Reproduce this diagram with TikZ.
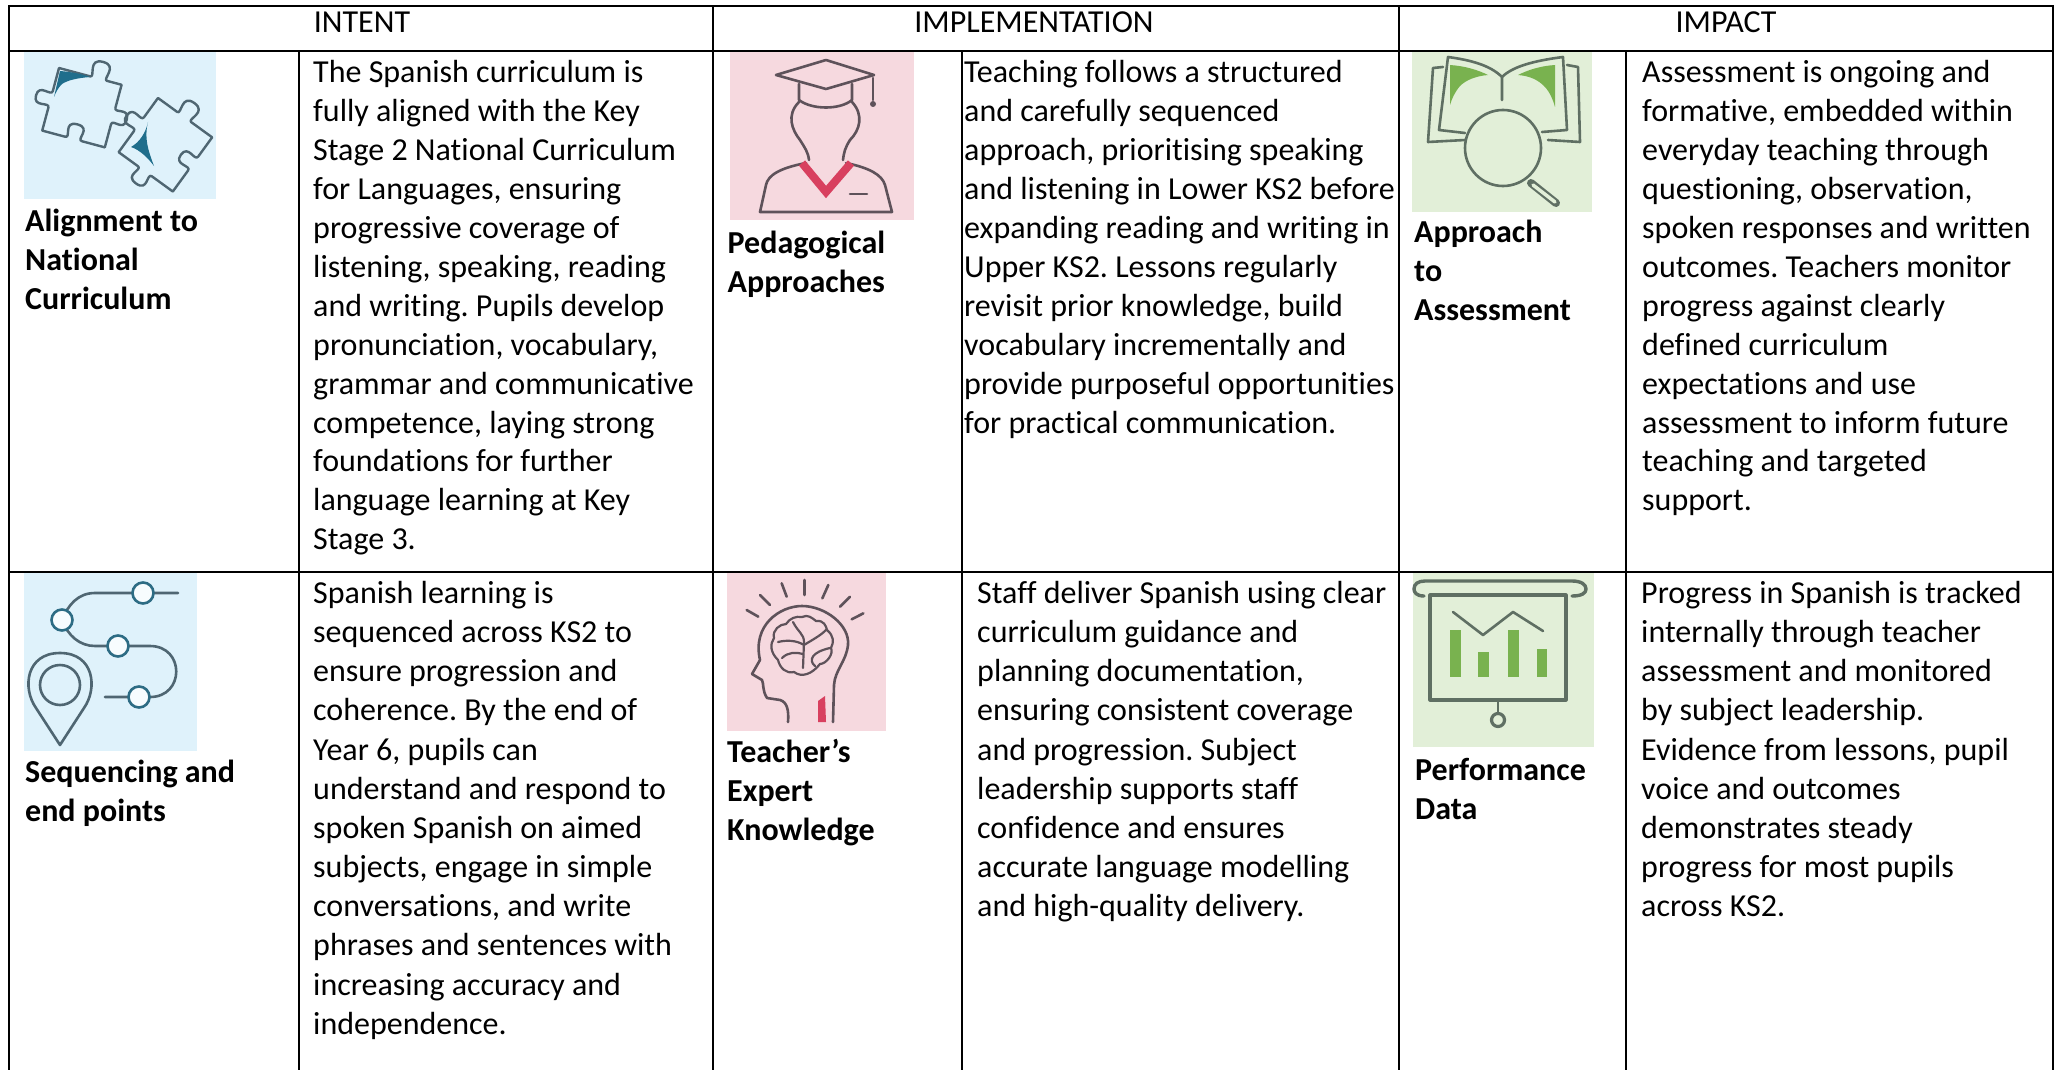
\documentclass[tikz,border=0pt]{standalone}
\usepackage{fontspec}
\setmainfont[Ligatures=NoCommon]{Carlito}
\frenchspacing
\newcommand{\bodytext}{\fontsize{32}{39}\selectfont\frenchspacing}
\newcommand{\labeltext}{\fontsize{32}{39}\selectfont\bfseries\frenchspacing}
\newcommand{\tl}[1]{\hbox{#1}}
\definecolor{bluebg}{HTML}{DFF2FB}
\definecolor{pinkbg}{HTML}{F6D9DF}
\definecolor{greenbg}{HTML}{E2EFD8}
\definecolor{bluestroke}{HTML}{4F6672}
\definecolor{tealacc}{HTML}{1F6E8C}
\definecolor{pinkstroke}{HTML}{5E525A}
\definecolor{redacc}{HTML}{D8405F}
\definecolor{greenstroke}{HTML}{5F6F63}
\definecolor{greenacc}{HTML}{79B24F}
\tikzset{
  grid line/.style={draw=black,line width=2.2pt},
  head/.style={anchor=base,inner sep=0pt,font=\bodytext},
  body/.style={anchor=base west,inner sep=0pt,font=\bodytext},
  lbl/.style={anchor=base west,inner sep=0pt,font=\labeltext},
  bluei/.style={draw=bluestroke,line width=2.6pt,line cap=round,line join=round},
  pinki/.style={draw=pinkstroke,line width=2.6pt,line cap=round,line join=round},
  greeni/.style={draw=greenstroke,line width=2.6pt,line cap=round,line join=round},
}
\newcommand{\knob}[2]{-- (#1-8,0) .. controls (#1-3,0) and (#1-15,#2) .. (#1,#2) .. controls (#1+15,#2) and (#1+3,0) .. (#1+8,0)}
\begin{document}
\begin{tikzpicture}[x=1pt,y=-1pt]
\useasboundingbox (0,0) rectangle (2055,1070);
\fill[white] (0,0) rectangle (2055,1070);

% icon backgrounds
\fill[bluebg] (24,51) rectangle (216,199);
\fill[pinkbg] (730,52) rectangle (914,220);
\fill[greenbg] (1412,51) rectangle (1592,212);
\fill[bluebg] (24,572) rectangle (197,751);
\fill[pinkbg] (727,572) rectangle (886,731);
\fill[greenbg] (1413,572) rectangle (1594,747);

% grid
\draw[grid line] (9,1070) -- (9,6) -- (2053,6) -- (2053,1070);
\draw[grid line] (9,51) -- (2053,51);
\draw[grid line] (9,572) -- (2053,572);
\draw[grid line] (713,6) -- (713,1070);
\draw[grid line] (1399,6) -- (1399,1070);
\draw[grid line] (299,51) -- (299,1070);
\draw[grid line] (962,51) -- (962,1070);
\draw[grid line] (1626,51) -- (1626,1070);

% headers
\node[head] (hintent) at (362,33) {INTENT};
\node[head] (himpl) at (1034,33) {IMPLEMENTATION};
\node[head] (himpact) at (1726,33) {IMPACT};

% puzzle icon
\begin{scope}[shift={(59,68)},rotate=-15,scale=1.08]
\draw[bluei,line width=2.4pt] (0,0) \knob{38}{-16} -- (60,0) -- (60,22)
  .. controls (60,28) and (73,18) .. (73,30) .. controls (73,42) and (60,32) .. (60,38) -- (60,60)
  -- (38,60) .. controls (32,60) and (44,46) .. (30,46) .. controls (16,46) and (28,60) .. (22,60) -- (0,60)
  -- (0,38) .. controls (0,32) and (-14,42) .. (-14,30) .. controls (-14,18) and (0,28) .. (0,22) -- cycle;
\end{scope}
\begin{scope}[shift={(158,98)},rotate=-36,scale=1.08]
\draw[bluei,line width=2.4pt] (0,0) \knob{30}{-16} -- (62,0) -- (62,22)
  .. controls (62,28) and (48,18) .. (48,30) .. controls (48,42) and (62,32) .. (62,38) -- (62,62)
  -- (38,62) .. controls (32,62) and (44,76) .. (30,76) .. controls (16,76) and (28,62) .. (22,62) -- (0,62)
  -- (0,38) .. controls (0,32) and (-14,42) .. (-14,30) .. controls (-14,18) and (0,28) .. (0,22) -- cycle;
\end{scope}
\fill[tealacc] (60,71) .. controls (72,72) and (82,74) .. (90,77) .. controls (78,78) and (68,80) .. (62,84) .. controls (58,88) and (56,92) .. (54,97) -- cycle;
\fill[tealacc] (148,122) .. controls (146,132) and (140,142) .. (131,147) .. controls (140,150) and (148,158) .. (154,166) .. controls (148,150) and (144,138) .. (148,122) -- cycle;

% graduate icon
\draw[pinki] (826,60) -- (776,75) -- (826,89) -- (874,75) -- cycle;
\draw[pinki] (799,84) -- (799,100) .. controls (812,110) and (840,110) .. (852,100) -- (852,84);
\draw[pinki] (873,78) -- (873,100);
\fill[pinkstroke] (873,104) circle (3pt);
\draw[pinki] (799,102) .. controls (786,115) and (792,130) .. (800,140) .. controls (805,148) and (808,152) .. (809,160);
\draw[pinki] (852,102) .. controls (864,115) and (860,130) .. (850,140) .. controls (845,148) and (844,152) .. (843,160);
\draw[pinki] (806,163) .. controls (780,168) and (768,175) .. (766,185) -- (760,212) -- (892,212) -- (885,185) .. controls (882,175) and (870,168) .. (846,163);
\draw[draw=redacc,line width=8pt,line join=miter] (802,163) -- (826,192) -- (851,163);
\draw[pinki] (850,194) -- (867,194);

% book icon
\fill[greenacc] (1450,65) .. controls (1465,66) and (1478,70) .. (1488,75) .. controls (1476,76) and (1466,80) .. (1460,86) .. controls (1455,92) and (1452,98) .. (1450,105) -- cycle;
\fill[greenacc] (1555,65) .. controls (1540,66) and (1528,70) .. (1518,75) .. controls (1530,76) and (1538,80) .. (1544,86) .. controls (1550,92) and (1553,100) .. (1555,107) -- cycle;
\draw[greeni] (1502,100) -- (1502,77) .. controls (1490,65) and (1470,60) .. (1448,57) -- (1439,130) -- (1465,133);
\draw[greeni] (1502,77) .. controls (1514,65) and (1540,60) .. (1563,57) -- (1567,130) -- (1542,132);
\draw[greeni] (1443,67) -- (1433,68) -- (1428,142) -- (1465,140);
\draw[greeni] (1567,65) -- (1578,67) -- (1580,142) -- (1548,140);
\draw[greeni] (1503,148) circle (38pt);
\draw[draw=greenstroke,line width=8pt,line cap=round] (1531,183) -- (1556,203);
\draw[draw=greenbg,line width=3.5pt,line cap=round] (1533,185) -- (1555,202);

% route icon
\draw[bluei] (178,593) -- (143,593) -- (95,593) .. controls (78,593) and (68,605) .. (62,620)
  .. controls (68,636) and (80,646) .. (95,646) -- (150,646)
  .. controls (185,646) and (185,697) .. (150,697) -- (105,697);
\foreach \c/\n in {(143,593)/a,(62,620)/b,(118,646)/c,(139,697)/d}{
  \fill[white!75!bluebg] \c circle (10pt);
  \draw[draw=tealacc!70!bluestroke,line width=2.6pt] \c circle (10.5pt);
}
\draw[bluei] (60,745) -- (36,708) .. controls (22,688) and (26,653) .. (60,653) .. controls (94,653) and (98,688) .. (84,708) -- cycle;
\draw[bluei] (60,685) ellipse (20pt and 20pt);

% head icon
\foreach \a/\b/\c/\d in {95/180/130/200,135/135/165/165,200/100/215/140,268/90/268/135,340/105/322/145,405/140/375/170,445/190/410/208}{
  \draw[pinki] (715+\a/3,550+\b/3) -- (715+\c/3,550+\d/3);
}
\draw[pinki] (788,722) .. controls (789,710) and (787,702) .. (780,700)
  -- (767,698) .. controls (762,690) and (764,684) .. (762,680) -- (752,674)
  -- (760,660) .. controls (752,625) and (780,606) .. (802,606)
  .. controls (825,606) and (850,625) .. (848,645) .. controls (846,662) and (835,670) .. (834,685) -- (833,722);
\draw[pinki,line width=2.2pt] (802,617) .. controls (808,614) and (812,618) .. (816,621) .. controls (824,620) and (826,626) .. (827,630)
  .. controls (834,636) and (834,642) .. (831,648) .. controls (834,654) and (826,664) .. (820,664)
  .. controls (812,674) and (802,678) .. (794,672) .. controls (786,674) and (780,668) .. (778,660)
  .. controls (770,652) and (770,644) .. (774,638) .. controls (772,630) and (780,624) .. (786,624) .. controls (790,618) and (796,616) .. (802,617);
\draw[pinki,line width=2.2pt] (793,622) .. controls (798,632) and (804,634) .. (804,642) -- (803,668);
\draw[pinki,line width=2.2pt] (778,642) .. controls (786,640) and (796,640) .. (804,645) .. controls (812,640) and (820,636) .. (826,630);
\draw[pinki,line width=2.2pt] (782,658) .. controls (788,652) and (796,652) .. (803,654);
\draw[pinki,line width=2.2pt] (815,666) .. controls (808,660) and (812,652) .. (830,648);
\fill[redacc] (818,701) -- (825,696) -- (826,722) -- (818,722) -- cycle;

% chart icon
\draw[greeni,line width=3.4pt] (1424,596) .. controls (1416,596) and (1414,592) .. (1414,589) .. controls (1414,584) and (1418,581) .. (1425,581) -- (1572,581) .. controls (1582,581) and (1586,585) .. (1586,589) .. controls (1586,593) and (1582,596) .. (1572,596);
\draw[greeni,line width=3.2pt] (1430,595) rectangle (1566,700);
\draw[greeni] (1498,700) -- (1498,713);
\draw[greeni,line width=3.2pt] (1498,720) circle (6.5pt);
\draw[greeni] (1453,612) -- (1483,635) -- (1513,612) -- (1543,631);
\fill[greenacc] (1450,630) rectangle (1461,677);
\fill[greenacc] (1478,652) rectangle (1489,677);
\fill[greenacc] (1508,630) rectangle (1519,677);
\fill[greenacc] (1537,649) rectangle (1547,677);

% labels
\node[lbl] (l1) at (25,231) {\vtop{\tl{Alignment to}\tl{National}\tl{Curriculum}}};
\node[lbl] (l2) at (727.5,253.5) {\vtop{\tl{Pedagogical}\tl{Approaches}}};
\node[lbl] (l3) at (1414,242.5) {\vtop{\tl{Approach}\tl{to}\tl{Assessment}}};
\node[lbl] (l4) at (25,782.5) {\vtop{\tl{Sequencing and}\tl{end points}}};
\node[lbl] (l5) at (727,762.5) {\vtop{\tl{Teacher’s}\tl{Expert}\tl{Knowledge}}};
\node[lbl] (l6) at (1415,780.5) {\vtop{\tl{Performance}\tl{Data}}};

% body text
\node[body] (b1) at (313,83) {\vtop{\baselineskip=38.9pt\tl{The Spanish curriculum is}\tl{fully aligned with the Key}\tl{Stage 2 National Curriculum}\tl{for Languages, ensuring}\tl{progressive coverage of}\tl{listening, speaking, reading}\tl{and writing. Pupils develop}\tl{pronunciation, vocabulary,}\tl{grammar and communicative}\tl{competence, laying strong}\tl{foundations for further}\tl{language learning at Key}\tl{Stage 3.}}};
\node[body] (b2) at (964,83) {\vtop{\baselineskip=38.9pt\tl{Teaching follows a structured}\tl{and carefully sequenced}\tl{approach, prioritising speaking}\tl{and listening in Lower KS2 before}\tl{expanding reading and writing in}\tl{Upper KS2. Lessons regularly}\tl{revisit prior knowledge, build}\tl{vocabulary incrementally and}\tl{provide purposeful opportunities}\tl{for practical communication.}}};
\node[body] (b3) at (1642,83) {\vtop{\baselineskip=38.9pt\tl{Assessment is ongoing and}\tl{formative, embedded within}\tl{everyday teaching through}\tl{questioning, observation,}\tl{spoken responses and written}\tl{outcomes. Teachers monitor}\tl{progress against clearly}\tl{defined curriculum}\tl{expectations and use}\tl{assessment to inform future}\tl{teaching and targeted}\tl{support.}}};
\node[body] (b4) at (313,603.5) {\vtop{\baselineskip=39.15pt\tl{Spanish learning is}\tl{sequenced across KS2 to}\tl{ensure progression and}\tl{coherence. By the end of}\tl{Year 6, pupils can}\tl{understand and respond to}\tl{spoken Spanish on aimed}\tl{subjects, engage in simple}\tl{conversations, and write}\tl{phrases and sentences with}\tl{increasing accuracy and}\tl{independence.}}};
\node[body] (b5) at (977,603.5) {\vtop{\baselineskip=39.15pt\tl{Staff deliver Spanish using clear}\tl{curriculum guidance and}\tl{planning documentation,}\tl{ensuring consistent coverage}\tl{and progression. Subject}\tl{leadership supports staff}\tl{confidence and ensures}\tl{accurate language modelling}\tl{and high-quality delivery.}}};
\node[body] (b6) at (1641,603.5) {\vtop{\baselineskip=39.15pt\tl{Progress in Spanish is tracked}\tl{internally through teacher}\tl{assessment and monitored}\tl{by subject leadership.}\tl{Evidence from lessons, pupil}\tl{voice and outcomes}\tl{demonstrates steady}\tl{progress for most pupils}\tl{across KS2.}}};
\end{tikzpicture}
\end{document}
